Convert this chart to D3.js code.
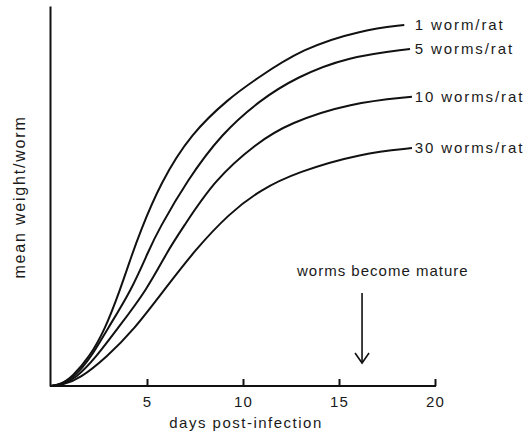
<!DOCTYPE html>
<html>
<head>
<meta charset="utf-8">
<script src="https://cdn.jsdelivr.net/npm/d3@7"></script>
<style>
  html, body { margin: 0; padding: 0; background: #fff; }
  text { font-family: "Liberation Sans", Arial, sans-serif; fill: #1a1a1a; }
</style>
</head>
<body>
<svg id="chart" width="529" height="433"></svg>
<script>
// Growth curves: mean weight per worm vs. days after infection
const seriesNames = ["1 worm/rat", "5 worms/rat", "10 worms/rat", "30 worms/rat"];

const days1  = [0, 0.5, 1.1, 2.0, 2.8, 3.6, 4.2, 4.6, 5.7, 7.3, 9.3, 10.6, 13.1, 16.2, 18.4];
const vals1  = [0, 0.4, 2.4, 7.6, 14.7, 25.3, 34.3, 40.0, 53.5, 66.5, 75.8, 80.5, 88.9, 93.7, 95.0];

const days5  = [0, 0.5, 1.2, 2.1, 2.9, 4.2, 5.1, 5.6, 7.1, 8.9, 10.9, 12.8, 15.4, 18.7];
const vals5  = [0, 0.4, 2.2, 7.6, 14.7, 25.3, 35.8, 41.1, 54.2, 66.5, 75.3, 81.3, 86.6, 88.7];

const days10 = [0, 0.5, 1.3, 2.35, 3.4, 5.0, 6.1, 6.8, 8.5, 10.7, 12.4, 15.6, 18.8];
const vals10 = [0, 0.3, 2.0, 7.6, 14.7, 25.3, 35.8, 41.1, 54.2, 63.9, 69.2, 74.5, 76.1];

const days30 = [0, 0.6, 1.5, 2.9, 4.3, 5.9, 7.5, 9.3, 10.9, 12.8, 16.2, 18.8];
const vals30 = [0, 0.3, 1.9, 7.6, 14.7, 25.3, 35.8, 45.5, 51.6, 56.3, 61.3, 62.6];

const xTicks = [5, 10, 15, 20];
const xLabel = "days post-infection";
const yLabel = "mean weight/worm";
const maturityDay = 16.2;
const maturityText = "worms become mature";

const seriesDays = [days1, days5, days10, days30];
const seriesVals = [vals1, vals5, vals10, vals30];

const svg = d3.select("#chart");

const x = d3.scaleLinear().domain([0, 20]).range([51, 435]);
const y = d3.scaleLinear().domain([0, 100]).range([386, 6]);

// x axis with inward-pointing ticks
const xAxis = svg.append("g")
  .attr("transform", `translate(0,${y(0)})`)
  .call(d3.axisBottom(x).tickValues(xTicks).tickSize(-7).tickSizeOuter(0).tickPadding(0));
xAxis.select(".domain").attr("d", `M${x(0) - 1},0H${x(20) + 1}`).attr("stroke", "#111").attr("stroke-width", 2);
xAxis.selectAll(".tick line").attr("stroke", "#111").attr("stroke-width", 2);
xAxis.selectAll(".tick text")
  .attr("y", 21)
  .attr("dy", null)
  .style("font-size", "15px")
  .style("letter-spacing", "1.2px")
  .style("font-family", "Liberation Sans, Arial, sans-serif")
  .attr("fill", "#1a1a1a");

// y axis: plain line, no ticks
const yAxis = svg.append("g")
  .attr("transform", `translate(${x(0) - 1},0)`)
  .call(d3.axisLeft(y).tickValues([]).tickSizeOuter(0));
yAxis.select(".domain").attr("stroke", "#111").attr("stroke-width", 2);

// axis titles
svg.append("text")
  .attr("x", 246).attr("y", 428)
  .attr("text-anchor", "middle")
  .style("font-size", "15px")
  .style("letter-spacing", "1.5px")
  .text(xLabel);

svg.append("text")
  .attr("transform", `translate(25,197) rotate(-90)`)
  .attr("text-anchor", "middle")
  .style("font-size", "16px")
  .style("letter-spacing", "1.8px")
  .text(yLabel);

// curves
const line = d3.line()
  .x(d => x(d[0]))
  .y(d => y(d[1]))
  .curve(d3.curveBasis);

seriesNames.forEach((name, i) => {
  const pts = seriesDays[i].map((d, j) => [d, seriesVals[i][j]]);
  svg.append("path")
    .datum(pts)
    .attr("d", line)
    .attr("fill", "none")
    .attr("stroke", "#111")
    .attr("stroke-width", 2);

  const last = pts[pts.length - 1];
  svg.append("text")
    .attr("x", x(19) - 1)
    .attr("y", y(last[1]))
    .attr("dy", "0.35em")
    .style("font-size", "15px")
    .style("letter-spacing", "1.9px")
    .text(name);
});

// maturity marker
const ax = x(maturityDay);
svg.append("text")
  .attr("x", ax - 65).attr("y", 276)
  .attr("text-anchor", "start")
  .style("font-size", "15px")
  .style("letter-spacing", "1px")
  .text(maturityText);

svg.append("line")
  .attr("x1", ax).attr("x2", ax)
  .attr("y1", 293).attr("y2", 363)
  .attr("stroke", "#111").attr("stroke-width", 1.6);

svg.append("path")
  .attr("d", `M${ax - 7},${353}L${ax},${363}L${ax + 7},${353}`)
  .attr("fill", "none")
  .attr("stroke", "#111")
  .attr("stroke-width", 1.6);
</script>
</body>
</html>
